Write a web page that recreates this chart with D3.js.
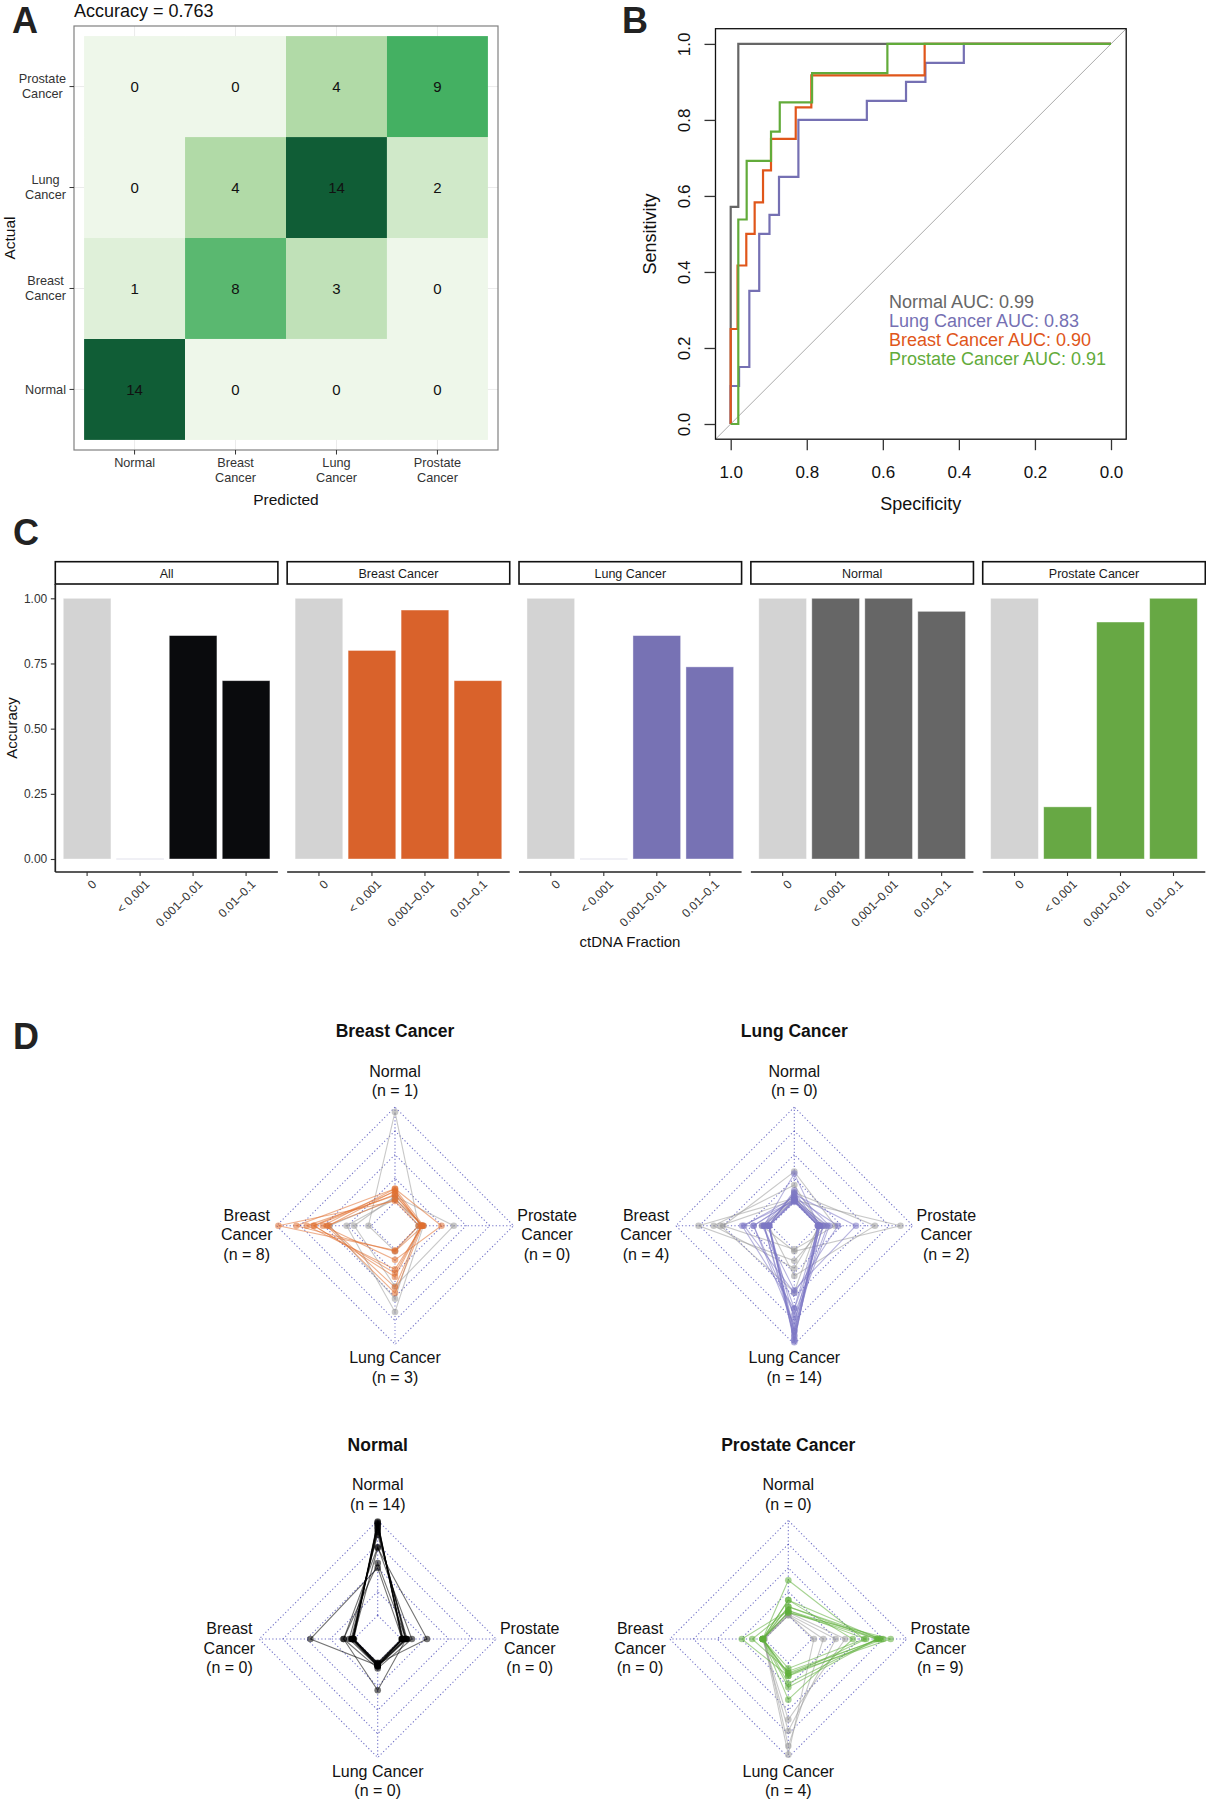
<!DOCTYPE html>
<html><head><meta charset="utf-8">
<script src="https://cdn.jsdelivr.net/npm/d3@7"></script>
<style>
body{margin:0;background:#fff}
svg{display:block}
text{font-family:"Liberation Sans",Arial,Helvetica,sans-serif}
</style></head>
<body><svg id="c" width="1206" height="1800"></svg>
<script>
// ---------------- DATA ----------------
const classes = ["Normal","Breast Cancer","Lung Cancer","Prostate Cancer"];
// confusion matrix: rows = actual, columns = predicted (order of classes)
const cmNormal   = [14, 0, 0, 0];
const cmBreast   = [1, 8, 3, 0];
const cmLung     = [0, 4, 14, 2];
const cmProstate = [0, 0, 4, 9];

// ROC step curves: [specificity, sensitivity]
const rocNormal = [[1,0],[1,0.571],[0.98,0.571],[0.98,1],[0,1]];
const rocLung = [[1,0],[1,0.10],[0.978,0.10],[0.978,0.15],[0.951,0.15],[0.951,0.35],[0.925,0.35],[0.925,0.50],[0.898,0.50],[0.898,0.55],[0.873,0.55],[0.873,0.65],[0.822,0.65],[0.822,0.80],[0.642,0.80],[0.642,0.85],[0.539,0.85],[0.539,0.90],[0.488,0.90],[0.488,0.95],[0.387,0.95],[0.387,1],[0,1]];
const rocBreast = [[1,0],[1,0.25],[0.982,0.25],[0.982,0.417],[0.959,0.417],[0.959,0.5],[0.937,0.5],[0.937,0.583],[0.915,0.583],[0.915,0.667],[0.894,0.667],[0.894,0.75],[0.829,0.75],[0.829,0.833],[0.788,0.833],[0.788,0.917],[0.49,0.917],[0.49,1],[0,1]];
const rocProstate = [[1,0],[0.98,0],[0.98,0.538],[0.958,0.538],[0.958,0.692],[0.894,0.692],[0.894,0.769],[0.871,0.769],[0.871,0.846],[0.786,0.846],[0.786,0.923],[0.588,0.923],[0.588,1],[0,1]];
const rocNames = ["Normal","Lung Cancer","Breast Cancer","Prostate Cancer"];
const aucValues = [0.99, 0.83, 0.90, 0.91];
const rocColors = ["#666666","#7570b3","#e0561a","#62ab3a"];
const rocTicks = [1.0,0.8,0.6,0.4,0.2,0.0];

// Accuracy by ctDNA fraction
const facetNames = ["All","Breast Cancer","Lung Cancer","Normal","Prostate Cancer"];
const bins = ["0","< 0.001","0.001\u20130.01","0.01\u20130.1"];
const accAll      = [1.00, 0.00, 0.857, 0.684];
const accBreast   = [1.00, 0.80, 0.955, 0.684];
const accLung     = [1.00, 0.00, 0.857, 0.737];
const accNormal   = [1.00, 1.00, 1.00, 0.950];
const accProstate = [1.00, 0.20, 0.909, 1.00];
const barColors = ["#0a0b0d","#d9622b","#7772b4","#666666","#67a844"];
const accTicks = [0, 0.25, 0.5, 0.75, 1];

// Radar data: per sample [Normal, Breast, Lung, Prostate] probabilities, plus predicted class
const radarBreast = [[0.01,0.98,0.01,0.00],[0.14,0.79,0.02,0.05],[0.07,0.68,0.21,0.04],[0.11,0.61,0.25,0.03],[0.08,0.60,0.29,0.03],[0.14,0.51,0.11,0.24],[0.03,0.47,0.46,0.04],[0.12,0.45,0.40,0.03],[0.95,0.03,0.02,0.00],[0.04,0.44,0.52,0.00],[0.03,0.26,0.66,0.05],[0.06,0.18,0.39,0.37]];
const predBreast = ["Breast Cancer","Breast Cancer","Breast Cancer","Breast Cancer","Breast Cancer","Breast Cancer","Breast Cancer","Breast Cancer","Normal","Lung Cancer","Lung Cancer","Lung Cancer"];
const radarLung = [[0.04,0.76,0.12,0.08],[0.18,0.60,0.20,0.02],[0.02,0.53,0.45,0.00],[0.32,0.50,0.00,0.18],[0.02,0.09,0.02,0.87],[0.10,0.02,0.28,0.60],[0.00,0.02,0.98,0.00],[0.01,0.02,0.96,0.01],[0.02,0.01,0.95,0.02],[0.01,0.07,0.92,0.00],[0.03,0.02,0.90,0.05],[0.10,0.02,0.86,0.02],[0.05,0.07,0.86,0.02],[0.02,0.18,0.80,0.00],[0.12,0.02,0.74,0.12],[0.03,0.18,0.69,0.10],[0.01,0.30,0.63,0.06],[0.30,0.07,0.62,0.01],[0.05,0.28,0.46,0.21],[0.08,0.09,0.43,0.40]];
const predLung = ["Breast Cancer","Breast Cancer","Breast Cancer","Breast Cancer","Prostate Cancer","Prostate Cancer","Lung Cancer","Lung Cancer","Lung Cancer","Lung Cancer","Lung Cancer","Lung Cancer","Lung Cancer","Lung Cancer","Lung Cancer","Lung Cancer","Lung Cancer","Lung Cancer","Lung Cancer","Lung Cancer"];
const radarNormal = [[0.99,0.01,0.00,0.00],[0.98,0.00,0.01,0.01],[0.97,0.01,0.01,0.01],[0.96,0.01,0.02,0.01],[0.95,0.01,0.03,0.01],[0.93,0.02,0.03,0.02],[0.92,0.01,0.03,0.04],[0.90,0.02,0.03,0.05],[0.88,0.03,0.04,0.05],[0.85,0.05,0.04,0.06],[0.72,0.11,0.06,0.11],[0.71,0.01,0.01,0.27],[0.50,0.46,0.03,0.01],[0.55,0.11,0.29,0.05]];
const predNormal = Array(14).fill("Normal");
const radarProstate = [[0.03,0.02,0.12,0.83],[0.09,0.02,0.14,0.75],[0.05,0.13,0.09,0.73],[0.16,0.02,0.11,0.71],[0.09,0.01,0.22,0.68],[0.03,0.02,0.26,0.69],[0.37,0.02,0.06,0.55],[0.16,0.02,0.39,0.43],[0.05,0.24,0.14,0.57],[0.00,0.01,0.97,0.02],[0.00,0.00,0.88,0.12],[0.01,0.02,0.72,0.25],[0.03,0.02,0.60,0.35]];
const predProstate = ["Prostate Cancer","Prostate Cancer","Prostate Cancer","Prostate Cancer","Prostate Cancer","Prostate Cancer","Prostate Cancer","Prostate Cancer","Prostate Cancer","Lung Cancer","Lung Cancer","Lung Cancer","Lung Cancer"];
const radarColors = ["#000000","#e0702f","#7b76c4","#5fae3a"];
const radarLevels = [0, 0.25, 0.5, 0.75, 1];

// ---------------- DRAW ----------------
const svg = d3.select("#c");

// panel letters
[["A",12,33],["B",622,33],["C",13,545],["D",13,1049]].forEach(([t,x,y])=>{
  svg.append("text").attr("x",x).attr("y",y).attr("font-size",36).attr("font-weight","bold").attr("fill","#222").text(t);
});

// ===== Panel A: confusion matrix =====
(function(){
  const g = svg.append("g");
  const cm = [cmNormal, cmBreast, cmLung, cmProstate];
  const x = d3.scaleBand().domain(classes).range([74,498]).paddingInner(0).paddingOuter(0.1);
  const y = d3.scaleBand().domain(classes).range([450,26]).paddingInner(0).paddingOuter(0.1);
  const color = d3.scaleLinear().domain([0,4,9,14]).range(["#eef7ea","#b1daa7","#44b062","#105d36"]);
  const bw = x.bandwidth();
  classes.forEach(c=>{
    g.append("line").attr("x1",x(c)+bw/2).attr("x2",x(c)+bw/2).attr("y1",26).attr("y2",450).attr("stroke","#ebebeb");
    g.append("line").attr("y1",y(c)+bw/2).attr("y2",y(c)+bw/2).attr("x1",74).attr("x2",498).attr("stroke","#ebebeb");
  });
  const cells = [];
  cm.forEach((row,i)=>row.forEach((v,j)=>cells.push({a:classes[i],p:classes[j],v})));
  g.selectAll("rect.t").data(cells).enter().append("rect")
    .attr("x",d=>x(d.p)).attr("y",d=>y(d.a)).attr("width",bw).attr("height",y.bandwidth())
    .attr("fill",d=>color(d.v));
  g.selectAll("text.v").data(cells).enter().append("text")
    .attr("x",d=>x(d.p)+bw/2).attr("y",d=>y(d.a)+y.bandwidth()/2).attr("dy","0.36em")
    .attr("text-anchor","middle").attr("font-size",15).attr("fill","#111").text(d=>d.v);
  g.append("rect").attr("x",74).attr("y",26).attr("width",424).attr("height",424).attr("fill","none").attr("stroke","#808080").attr("stroke-width",1.2);
  classes.forEach(c=>{
    const cx = x(c)+bw/2;
    g.append("line").attr("x1",cx).attr("x2",cx).attr("y1",450).attr("y2",454.5).attr("stroke","#333");
    c.split(" ").forEach((ln,k)=>{
      g.append("text").attr("x",cx).attr("y",466.5+k*15).attr("text-anchor","middle").attr("font-size",12.7).attr("fill","#333").text(ln);
    });
    const cy = y(c)+bw/2;
    g.append("line").attr("x1",69.5).attr("x2",74).attr("y1",cy).attr("y2",cy).attr("stroke","#333");
    const lines = c.split(" ");
    const tg = g.append("g");
    const ts = lines.map((ln,k)=>tg.append("text").attr("font-size",12.7).attr("fill","#333").attr("text-anchor","middle")
      .attr("y", lines.length===1 ? cy+4.4 : cy-3.7+k*15).text(ln));
    const w = d3.max(ts.map(t=>t.node().getComputedTextLength()));
    ts.forEach(t=>t.attr("x",66-w/2));
  });
  const total = d3.sum(cm.flat());
  const correct = d3.sum(cm.map((r,i)=>r[i]));
  g.append("text").attr("x",74).attr("y",16.5).attr("font-size",18).attr("fill","#111").text("Accuracy = "+(correct/total).toFixed(3));
  g.append("text").attr("x",286).attr("y",505).attr("text-anchor","middle").attr("font-size",15.5).attr("fill","#111").text("Predicted");
  g.append("text").attr("transform","translate(15,238) rotate(-90)").attr("text-anchor","middle").attr("font-size",15.5).attr("fill","#111").text("Actual");
})();

// ===== Panel B: ROC =====
(function(){
  const g = svg.append("g");
  const x = d3.scaleLinear().domain([1,0]).range([730.7,1111]);
  const y = d3.scaleLinear().domain([0,1]).range([424,43.9]);
  const x0 = x(1.04), x1 = x(-0.04), y0 = y(-0.04), y1 = y(1.04);
  g.append("clipPath").attr("id","rocclip").append("rect").attr("x",x0).attr("y",y1).attr("width",x1-x0).attr("height",y0-y1);
  g.append("line").attr("clip-path","url(#rocclip)")
    .attr("x1",x(1.04)).attr("y1",y(-0.04)).attr("x2",x(-0.04)).attr("y2",y(1.04))
    .attr("stroke","#aaaaaa").attr("stroke-width",1);
  const line = d3.line().x(d=>x(d[0])).y(d=>y(d[1]));
  const curves = [rocNormal, rocLung, rocBreast, rocProstate];
  curves.forEach((c,i)=>{
    g.append("path").attr("d",line(c)).attr("fill","none").attr("stroke",rocColors[i]).attr("stroke-width",2.2);
  });
  g.append("rect").attr("x",x0).attr("y",y1).attr("width",x1-x0).attr("height",y0-y1).attr("fill","none").attr("stroke","#111").attr("stroke-width",1.3);
  const ax = g.append("g").attr("transform",`translate(0,${y0})`)
    .call(d3.axisBottom(x).tickValues(rocTicks).tickFormat(d3.format(".1f")).tickSize(11).tickPadding(16));
  ax.select(".domain").remove();
  ax.selectAll("line").attr("stroke","#333").attr("stroke-width",1.3);
  ax.selectAll("text").attr("font-size",17).attr("font-family",null).attr("fill","#111");
  const ay = g.append("g").attr("transform",`translate(${x0},0)`)
    .call(d3.axisLeft(y).tickValues([0,0.2,0.4,0.6,0.8,1]).tickFormat(d3.format(".1f")).tickSize(11));
  ay.select(".domain").remove();
  ay.selectAll("line").attr("stroke","#333").attr("stroke-width",1.3);
  ay.selectAll("text").attr("font-size",17).attr("font-family",null).attr("fill","#111")
    .attr("transform","rotate(-90)").attr("x",0).attr("y",-25).attr("dy",null).attr("text-anchor","middle");
  g.append("text").attr("x",920.7).attr("y",510).attr("text-anchor","middle").attr("font-size",18).attr("fill","#111").text("Specificity");
  g.append("text").attr("transform","translate(656,234) rotate(-90)").attr("text-anchor","middle").attr("font-size",18).attr("fill","#111").text("Sensitivity");
  rocNames.forEach((c,i)=>{
    g.append("text").attr("x",889).attr("y",307.5+i*19.2).attr("font-size",18).attr("fill",rocColors[i])
      .text(`${c} AUC: ${aucValues[i].toFixed(2)}`);
  });
})();

// ===== Panel C: accuracy by ctDNA fraction =====
(function(){
  const g = svg.append("g");
  const accs = [accAll, accBreast, accLung, accNormal, accProstate];
  const fx = d3.scaleBand().domain(facetNames).range([55.3,1205.3]).paddingInner(0.04).paddingOuter(0);
  const y = d3.scaleLinear().domain([0,1]).range([859,598.3]);
  const axisY = 872, stripTop = 561.7, stripBot = 584;
  facetNames.forEach((f,i)=>{
    const px = fx(f), W = fx.bandwidth();
    const x = d3.scaleBand().domain(bins).range([px,px+W]).paddingInner(0.1).paddingOuter(0.15);
    g.append("rect").attr("x",px).attr("y",stripTop).attr("width",W).attr("height",stripBot-stripTop)
      .attr("fill","#fff").attr("stroke","#111").attr("stroke-width",1.6);
    g.append("text").attr("x",px+W/2).attr("y",577.5).attr("text-anchor","middle").attr("font-size",12.5).attr("fill","#1a1a1a").text(f);
    bins.forEach((b,j)=>{
      const v = accs[i][j];
      const col = j===0 ? "#d3d3d3" : barColors[i];
      if (v > 0) {
        g.append("rect").attr("x",x(b)).attr("y",y(v)).attr("width",x.bandwidth()).attr("height",y(0)-y(v))
          .attr("fill",col).attr("stroke","#ffffff").attr("stroke-opacity",0.5).attr("stroke-width",0.8);
      } else {
        g.append("line").attr("x1",x(b)).attr("x2",x(b)+x.bandwidth()).attr("y1",y(0)).attr("y2",y(0))
          .attr("stroke","#e2e2ec").attr("stroke-width",1.2);
      }
    });
    const ax = g.append("g").attr("transform",`translate(0,${axisY})`)
      .call(d3.axisBottom(x).tickSize(4).tickSizeOuter(0));
    ax.select(".domain").attr("stroke","#222").attr("stroke-width",1.7).attr("d",`M${px},0H${px+W}`);
    ax.selectAll(".tick line").attr("stroke","#333").attr("stroke-width",1.1);
    ax.selectAll(".tick text").attr("font-size",12).attr("font-family",null).attr("fill","#333")
      .attr("text-anchor","end").attr("y",0).attr("dy","0.72em")
      .attr("transform","translate(4,7) rotate(-45)");
  });
  const ay = g.append("g").attr("transform","translate(55.3,0)")
    .call(d3.axisLeft(y).tickValues(accTicks).tickFormat(d3.format(".2f")).tickSize(4.5).tickPadding(3.5));
  ay.select(".domain").attr("d",`M0,${stripBot}V${axisY}`).attr("stroke","#222").attr("stroke-width",1.7);
  ay.selectAll(".tick line").attr("stroke","#333").attr("stroke-width",1.1);
  ay.selectAll(".tick text").attr("font-size",12).attr("font-family",null).attr("fill","#333");
  g.append("text").attr("transform","translate(16.5,728) rotate(-90)").attr("text-anchor","middle").attr("font-size",15).attr("fill","#111").text("Accuracy");
  g.append("text").attr("x",630).attr("y",947).attr("text-anchor","middle").attr("font-size",15).attr("fill","#111").text("ctDNA Fraction");
})();

// ===== Panel D: radar charts =====
function radar(cx, cy, title, samples, preds, actualIdx){
  const R = 118.5;
  const g = svg.append("g").attr("transform",`translate(${cx},${cy})`);
  const r = d3.scaleLinear().domain([0,1]).range([0.2*R, R]);
  const ang = i => -i*Math.PI/2;   // Normal top, Breast left, Lung bottom, Prostate right
  const radial = d3.lineRadial().angle((d,i)=>ang(i)).radius(d=>r(d)).curve(d3.curveLinearClosed);
  const gridStyle = s => s.attr("fill","none").attr("stroke","#4a4ab8").attr("stroke-opacity",0.8)
     .attr("stroke-width",1.05).attr("stroke-dasharray","1.2 2.3");
  radarLevels.forEach(l=>{ g.append("path").attr("d",radial([l,l,l,l])).call(gridStyle); });
  classes.forEach((c,i)=>{
    const p0 = d3.pointRadial(ang(i), r(0)), p1 = d3.pointRadial(ang(i), r(1));
    g.append("line").attr("x1",p0[0]).attr("y1",p0[1]).attr("x2",p1[0]).attr("y2",p1[1]).call(gridStyle);
  });
  const actual = classes[actualIdx];
  const order = d3.range(samples.length).sort((a,b)=>(preds[a]===actual)-(preds[b]===actual));
  order.forEach(k=>{
    const s = samples[k];
    const ok = preds[k]===actual;
    const col = ok ? radarColors[actualIdx] : "#9a9a9a";
    g.append("path").attr("d",radial(s)).attr("fill","none").attr("stroke",col).attr("stroke-opacity",0.55).attr("stroke-width",1.1);
    s.forEach((v,i)=>{
      const p = d3.pointRadial(ang(i), r(v));
      g.append("circle").attr("cx",p[0]).attr("cy",p[1]).attr("r",3.3).attr("fill",col).attr("fill-opacity",0.55);
    });
  });
  const counts = classes.map(c=>preds.filter(p=>p===c).length);
  const fs = 16;
  const lab = (x,y,t)=>g.append("text").attr("x",x).attr("y",y).attr("text-anchor","middle").attr("font-size",fs).attr("fill","#111").text(t);
  g.append("text").attr("x",0).attr("y",-188.5).attr("text-anchor","middle").attr("font-size",17.5).attr("font-weight","bold").attr("fill","#111").text(title);
  lab(0,-149,classes[0]); lab(0,-129.5,`(n = ${counts[0]})`);
  lab(0,137.5,classes[2]); lab(0,157,`(n = ${counts[2]})`);
  const side = (xx, idx)=>{
    const parts = classes[idx].split(" ");
    parts.forEach((p,k)=>lab(xx,-5+k*19.5,p));
    lab(xx,-5+parts.length*19.5,`(n = ${counts[idx]})`);
  };
  side(-148.3, 1);
  side(152, 3);
}
radar(395, 1225.7, "Breast Cancer", radarBreast, predBreast, 1);
radar(794.3, 1225.7, "Lung Cancer", radarLung, predLung, 2);
radar(377.7, 1639, "Normal", radarNormal, predNormal, 0);
radar(788.3, 1639, "Prostate Cancer", radarProstate, predProstate, 3);
</script>
</body></html>
